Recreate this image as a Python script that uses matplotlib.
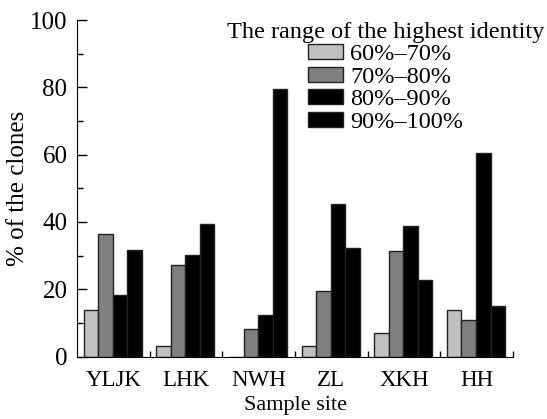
import numpy as np
import matplotlib
matplotlib.use('Agg')
import matplotlib.pyplot as plt
from matplotlib.ticker import MultipleLocator, FixedLocator

plt.rcParams['font.family'] = ['Liberation Serif', 'DejaVu Serif']

# data
sites = ['YLJK', 'LHK', 'NWH', 'ZL', 'XKH', 'HH']
ranges = ['60%\u201370%', '70%\u201380%', '80%\u201390%', '90%\u2013100%']
v60_70 = [13.7, 3.0, 0.0, 3.1, 7.0, 13.9]
v70_80 = [36.4, 27.2, 8.3, 19.5, 31.5, 11.0]
v80_90 = [18.2, 30.3, 12.5, 45.3, 38.7, 60.5]
v90_100 = [31.8, 39.5, 79.4, 32.2, 22.8, 15.0]
series = [v60_70, v70_80, v80_90, v90_100]
colors = ['#c0c0c0', '#808080', '#000000', '#000000']

fig = plt.figure(figsize=(5.47, 4.19), dpi=100)
ax = fig.add_axes([0.141, 0.149, 0.797, 0.803])

x = np.arange(len(sites))
w = 0.2
for i, (vals, c) in enumerate(zip(series, colors)):
    ax.bar(x + (i - 1.5) * w - 0.01, vals, width=w, color=c,
           edgecolor='#222222', linewidth=1.0, label=ranges[i])

ax.set_xlim(-0.5, 5.5)
ax.set_ylim(0, 100)
ax.spines['top'].set_visible(False)
ax.spines['right'].set_visible(False)

ax.set_xticks(x)
ax.set_xticklabels(sites, fontsize=16.5)
ax.xaxis.set_minor_locator(FixedLocator(np.arange(0.5, 6, 1)))
ax.tick_params(axis='x', which='major', length=0, pad=10)
ax.tick_params(axis='x', which='minor', direction='in', length=4, width=1)

ax.yaxis.set_major_locator(MultipleLocator(20))
ax.yaxis.set_minor_locator(MultipleLocator(10))
ax.tick_params(axis='y', which='major', direction='in', length=7, width=1,
               labelsize=18, pad=7)
ax.tick_params(axis='y', which='minor', direction='in', length=4, width=1)

ax.set_xlabel('Sample site', fontsize=16, labelpad=3)
ax.set_ylabel('% of the clones', fontsize=18, labelpad=1)

leg = ax.legend(title='The range of the highest identity', frameon=False,
                fontsize=17.5, title_fontsize=17.5, loc='upper right',
                bbox_to_anchor=(0.995, 0.948), bbox_transform=fig.transFigure,
                handlelength=1.45, handleheight=0.6, labelspacing=0.05,
                handletextpad=0.3, borderpad=0.0, borderaxespad=0.0)

fig.savefig('out.png', dpi=100)
